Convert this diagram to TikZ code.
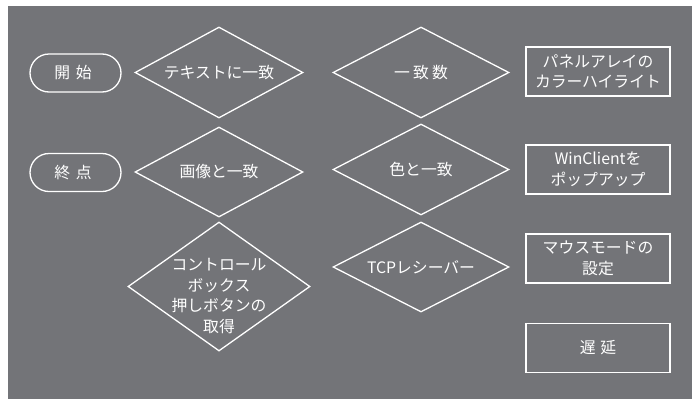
\documentclass[tikz,border=0pt]{standalone}
\usepackage{fontspec}
\setmainfont{Noto Sans CJK JP}
\usetikzlibrary{shapes.geometric}
\definecolor{bg}{RGB}{115,116,120}
\begin{document}
\begin{tikzpicture}[x=1pt,y=-1pt,
  every node/.style={font=\fontsize{15.8}{20.5}\selectfont, text=white},
  term/.style={draw=white, line width=1.3pt, rounded corners=19pt, minimum width=91pt, minimum height=38pt, inner sep=0pt},
  dia/.style={draw=white, line width=1.3pt, diamond, inner sep=0pt},
  box/.style={draw=white, line width=1.3pt, minimum width=144pt, minimum height=49pt, inner sep=0pt, align=center},
  lbl/.style={align=center, inner sep=0pt}]
\useasboundingbox (0,0) rectangle (692,399);
\fill[bg] (8,6) rectangle (692,399);

\node[term] (start) at (75.5,73) {};
\node[lbl] (st) at (73,73) {開\hspace{0.35em}始};
\node[term] (end) at (75.5,172.5) {};
\node[lbl] (et) at (73,172.5) {終\hspace{0.35em}点};

\node[dia, minimum width=168pt, minimum height=91pt] (d1) at (219,72.5) {};
\node[lbl] (t1) at (d1) {テキストに一致};
\node[dia, minimum width=168pt, minimum height=90pt] (d2) at (219,172) {};
\node[lbl] (t2) at (d2) {画像と一致};
\node[dia, minimum width=182pt, minimum height=129pt] (d3) at (219,286.5) {};
\node[lbl] (t3) at (219,296) {コントロール\\ボックス\\押しボタンの\\取得};

\node[dia, minimum width=176pt, minimum height=91pt] (d4) at (421,72.5) {};
\node[lbl] (t4) at (d4) {一\hspace{0.2em}致\hspace{0.2em}数};
\node[dia, minimum width=176pt, minimum height=91pt] (d5) at (421,169.5) {};
\node[lbl] (t5) at (d5) {色と一致};
\node[dia, minimum width=176pt, minimum height=90pt] (d6) at (421,267) {};
\node[lbl] (t6) at (d6) {TCPレシーバー};

\node[box] (b1) at (598,71.5) {パネルアレイの\\カラーハイライト};
\node[box] (b2) at (598,169.5) {WinClientを\\ポップアップ};
\node[box] (b3) at (598,258.5) {マウスモードの\\設定};
\node[box] (b4) at (598,348) {遅\hspace{0.3em}延};
\end{tikzpicture}
\end{document}
